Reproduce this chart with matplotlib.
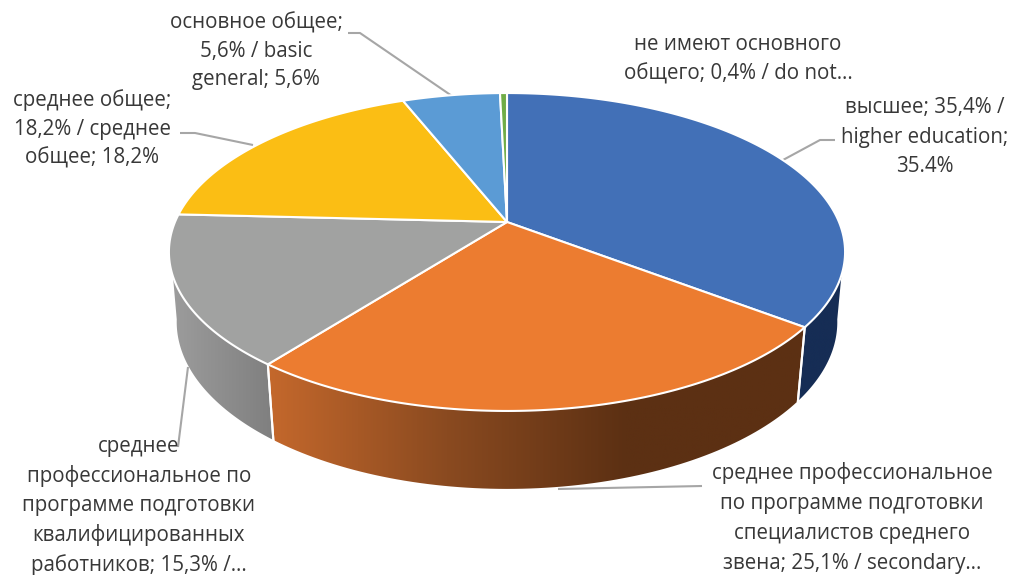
# -*- coding: utf-8 -*-
import numpy as np
import matplotlib
matplotlib.use('Agg')
import matplotlib.pyplot as plt
from matplotlib.colors import LinearSegmentedColormap
from matplotlib.patches import Polygon

plt.rcParams['font.family'] = ['Open Sans', 'DejaVu Sans']

# Shares in %, clockwise from 12 o'clock
values = [35.4, 25.1, 15.3, 18.2, 5.6, 0.4]
colors = ['#4270b7', '#ec7c30', '#a1a2a1', '#fbbe14', '#5b9bd5', '#70ad47']
labels = [
    'высшее; 35,4% /\nhigher education;\n35.4%',
    'среднее профессиональное\nпо программе подготовки\nспециалистов среднего\nзвена; 25,1% / secondary…',
    'среднее\nпрофессиональное по\nпрограмме подготовки\nквалифицированных\nработников; 15,3% /…',
    'среднее общее;\n18,2% / среднее\nобщее; 18,2%',
    'основное общее;\n5,6% / basic\ngeneral; 5,6%',
    'не имеют основного\nобщего; 0,4% / do not…',
]
label_pos = [(925, 137), (852, 518), (139, 506), (92, 129), (256, 51), (738, 59)]
label_spacing = [1.55, 1.55, 1.47, 1.47, 1.47, 1.47]
leaders = [
    [(783, 160), (820, 140), (835, 140)],
    [(558, 489), (702, 486)],
    [(188, 367), (178, 447)],
    [(253, 145), (195, 133), (180, 133)],
    [(452, 96), (360, 33), (348, 33)],
]

# Perspective of the disc, in pixels of the picture
cx, cy = 507, 222
A, B, k = 332, 153.3, 0.1887
low_y, low_sx, low_sy = 290.5, 0.977, 1.05


def top_rim(deg):
    t = np.radians(deg)
    u, v = np.sin(t), np.cos(t)
    w = 1 + k * v
    return cx + A * u / w, cy - B * v / w


def low_rim(deg):
    x, y = top_rim(deg)
    return cx + low_sx * (x - cx), low_y + low_sy * (y - cy)


fig = plt.figure(figsize=(10.14, 5.75), dpi=100)
ax = fig.add_axes([0, 0, 1, 1])
ax.set_xlim(0, 1014)
ax.set_ylim(575, 0)
ax.axis('off')

edges = np.concatenate([[0], np.cumsum(values)]) / sum(values) * 360

# Side walls: (slice, silhouette start on top rim, on low rim, end..., gradient)
walls = [
    (0, 109, 100, None, None, ['#162d55', '#162d55']),
    (1, None, None, None, None, ['#c4682c', '#8a4a20', '#5c3013', '#5c3013']),
    (2, None, None, 250.5, 260, ['#9c9c9c', '#7f7f7f']),
]
for i, top_a, low_a, top_b, low_b, grad in walls:
    a0, a1 = edges[i], edges[i + 1]
    ta = np.linspace(top_a if top_a else a0, top_b if top_b else a1, 80)
    la = np.linspace(low_a if low_a else a0, low_b if low_b else a1, 80)
    x1, y1 = top_rim(ta)
    x2, y2 = low_rim(la)
    pts = np.r_[np.c_[x1, y1], np.c_[x2, y2][::-1]]
    poly = Polygon(pts, closed=True, fc='none', ec='none')
    ax.add_patch(poly)
    cmap = LinearSegmentedColormap.from_list('wall%d' % i, grad)
    im = ax.imshow(np.linspace(0, 1, 256)[None, :], cmap=cmap, aspect='auto',
                   extent=[pts[:, 0].min(), pts[:, 0].max(), pts[:, 1].max(), pts[:, 1].min()],
                   zorder=1)
    im.set_clip_path(poly)
    # white seam at the slice ends
    for a in (a0, a1):
        if (top_b is None or a < top_b) and (top_a is None or a > top_a):
            ax.plot([top_rim(a)[0], low_rim(a)[0]], [top_rim(a)[1], low_rim(a)[1]],
                    color='white', lw=1.5, zorder=2)
ax.set_xlim(0, 1014)
ax.set_ylim(575, 0)

# Top face
for i, c in enumerate(colors):
    t = np.linspace(edges[i], edges[i + 1], 120)
    x, y = top_rim(t)
    ax.fill(np.r_[cx, x], np.r_[cy, y], fc=c, ec='white', lw=1.5, joinstyle='miter', zorder=3)

for line in leaders:
    xs, ys = zip(*line)
    ax.plot(xs, ys, color='#a6a6a6', lw=1.5, zorder=2.5, solid_capstyle='butt')

for s, (x, y), sp in zip(labels, label_pos, label_spacing):
    ax.text(x, y, s, ha='center', va='center', fontsize=14.8, color='#383838',
            linespacing=sp, zorder=5)

fig.savefig('out.png', dpi=100)
